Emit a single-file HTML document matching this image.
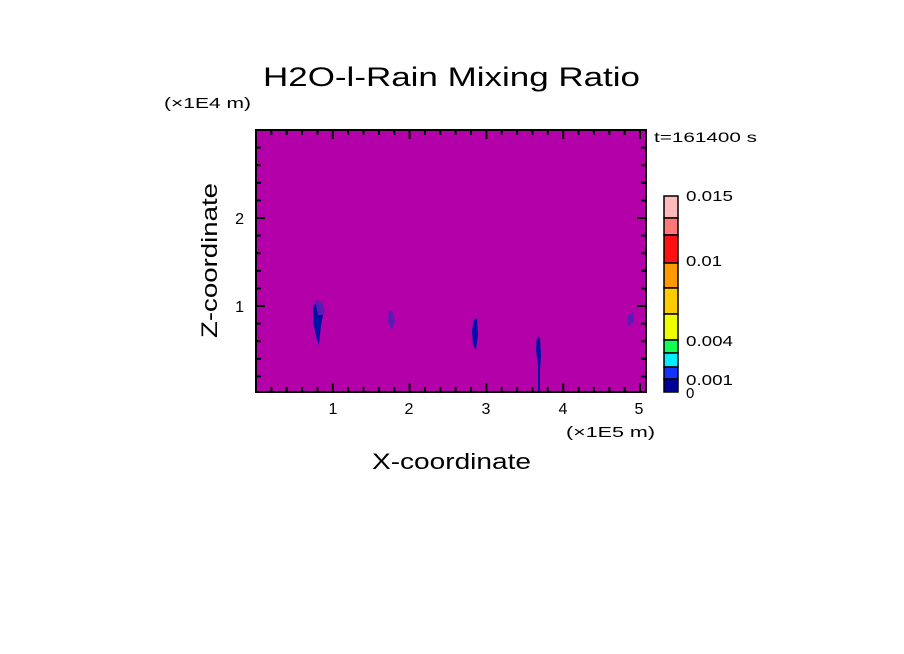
<!DOCTYPE html>
<html><head><meta charset="utf-8"><style>
html,body{margin:0;padding:0;background:#fff;}
svg{display:block;font-family:"Liberation Sans",sans-serif;}
</style></head><body>
<svg id="s" width="904" height="654" viewBox="0 0 904 654" xmlns="http://www.w3.org/2000/svg">
<rect width="904" height="654" fill="#fff"/>
<text x="263" y="86" font-size="27" fill="#000" textLength="377" lengthAdjust="spacingAndGlyphs">H2O-l-Rain Mixing Ratio</text>
<text x="164" y="108" font-size="15" fill="#000" textLength="87" lengthAdjust="spacingAndGlyphs">(×1E4 m)</text>
<rect x="256" y="130" width="390" height="262" fill="#b300a8"/>
<g fill="#0010a8">
<path d="M313 305 L320 302 L324 310 L321 325 L319 345 L317 340 L313 322 Z"/>
<path d="M474 320 L477 318 L478 335 L476 350 L473 345 L472 330 Z"/>
<path d="M537 336 L540 338 L541 355 L540 370 L540 392 L538 392 L538 365 L536 350 Z"/>
</g>
<g fill="#5a1ab8">
<path d="M389 310 L393 312 L395 322 L392 330 L388 322 Z"/>
<path d="M628 316 L633 312 L634 322 L628 326 Z"/>
<path d="M315 300 L322 302 L325 312 L322 315 L318 315 Z"/>
</g>
<g id="ticks" stroke="#000" stroke-width="2"></g>
<rect x="256" y="130" width="390" height="262" fill="none" stroke="#000" stroke-width="2"/>
<g font-size="16" fill="#000" text-anchor="middle">
<text x="333" y="414">1</text><text x="409" y="414">2</text><text x="486" y="414">3</text><text x="563" y="414">4</text><text x="639" y="414">5</text>
</g>
<g font-size="16" fill="#000" text-anchor="end">
<text x="244" y="224">2</text><text x="244" y="312">1</text>
</g>
<text x="566" y="437" font-size="15" fill="#000" textLength="89" lengthAdjust="spacingAndGlyphs">(×1E5 m)</text>
<text x="372" y="469" font-size="22" fill="#000" textLength="159" lengthAdjust="spacingAndGlyphs">X-coordinate</text>
<text transform="translate(217,338) rotate(-90)" font-size="22" fill="#000" textLength="155" lengthAdjust="spacingAndGlyphs">Z-coordinate</text>
<text x="654" y="142" font-size="14" fill="#000" textLength="103" lengthAdjust="spacingAndGlyphs">t=161400 s</text>
<g stroke="#000" stroke-width="1.5">
<rect x="664" y="196" width="14" height="22" fill="#ffbbbb"/>
<rect x="664" y="218" width="14" height="17" fill="#ff7777"/>
<rect x="664" y="235" width="14" height="28" fill="#ff1111"/>
<rect x="664" y="263" width="14" height="25" fill="#ff9900"/>
<rect x="664" y="288" width="14" height="26" fill="#ffcc00"/>
<rect x="664" y="314" width="14" height="26" fill="#eeff00"/>
<rect x="664" y="340" width="14" height="13" fill="#11ff55"/>
<rect x="664" y="353" width="14" height="14" fill="#00eeff"/>
<rect x="664" y="367" width="14" height="12" fill="#1133ff"/>
<rect x="664" y="379" width="14" height="13" fill="#000099"/>
</g>
<g font-size="15" fill="#000">
<text x="686" y="201" textLength="47" lengthAdjust="spacingAndGlyphs">0.015</text>
<text x="686" y="266" textLength="36" lengthAdjust="spacingAndGlyphs">0.01</text>
<text x="686" y="346" textLength="47" lengthAdjust="spacingAndGlyphs">0.004</text>
<text x="686" y="385" textLength="47" lengthAdjust="spacingAndGlyphs">0.001</text>
<text x="686" y="398">0</text>
</g>
</svg>
<script>
var g=document.getElementById('ticks'),h='';
function L(a,b,c,d){h+='<line x1="'+a+'" y1="'+b+'" x2="'+c+'" y2="'+d+'"/>';}
for(var i=1;i<=25;i++){var x=256+i*76.8/5;if(x>646)break;var M=i%5==0,l=M?9:5;L(x,392,x,392-l);L(x,130,x,130+l);}
for(var j=1;j<=14;j++){var y=394-j*88/5;if(y<131)break;var M=j%5==0,l=M?9:5;L(256,y,256+l,y);L(646,y,646-l,y);}
g.innerHTML=h;
</script>
</body></html>
